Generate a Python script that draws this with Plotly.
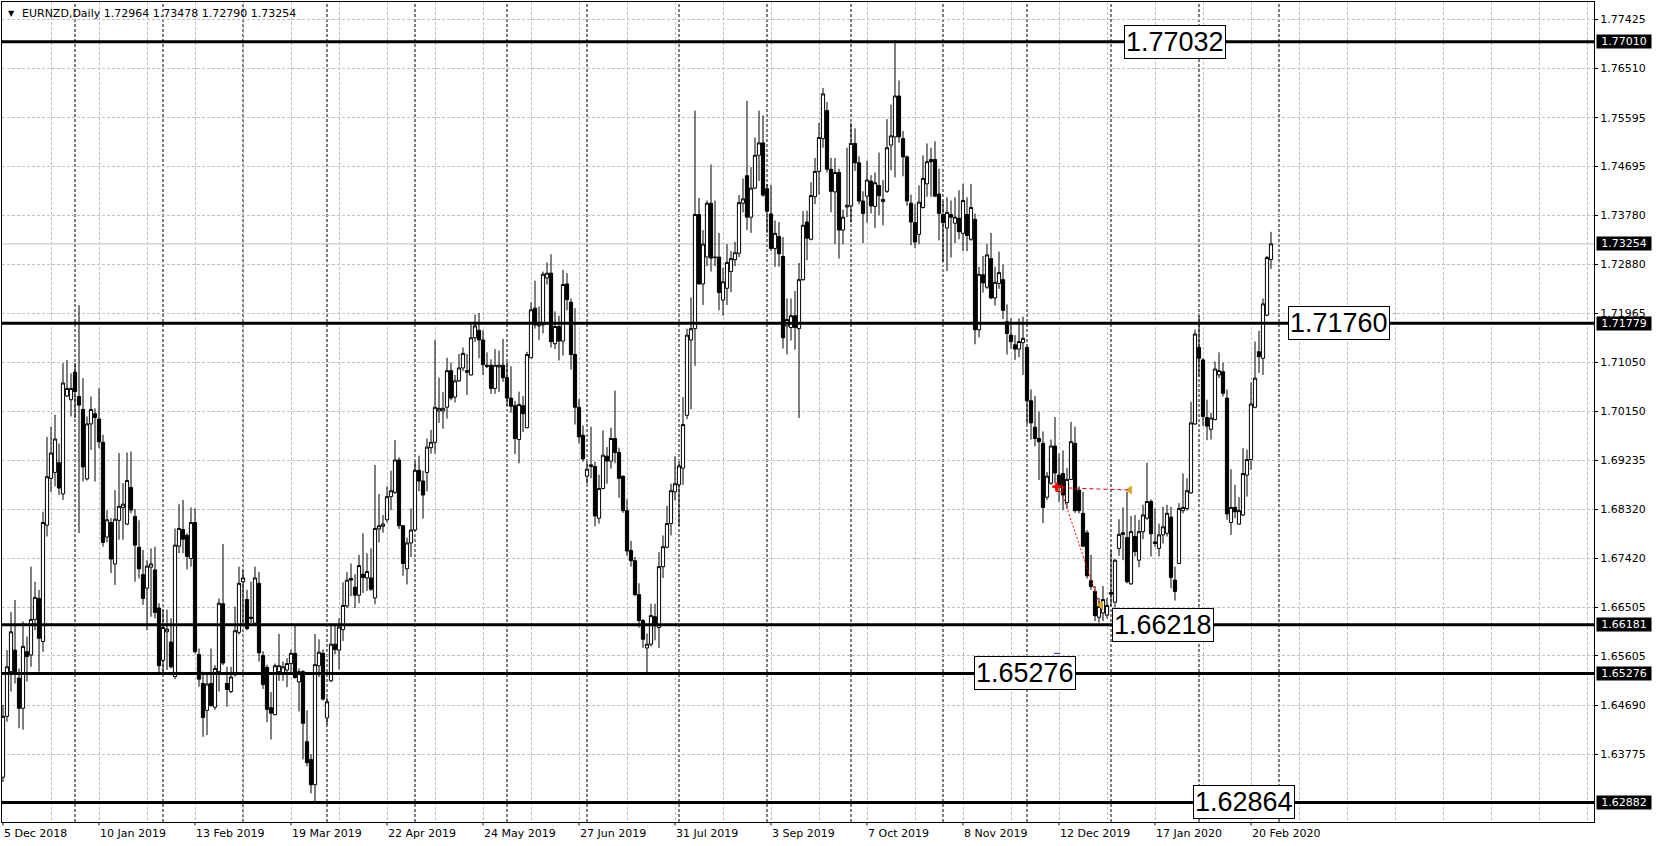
import plotly.graph_objects as go
import pandas as pd

# ---------------- data ----------------
symbol_title = "EURNZD,Daily"

opens = [
    1.6335, 1.6448, 1.6531, 1.6571, 1.6519, 1.6463, 1.6568, 1.6562, 1.6628, 1.6667,
    1.6587, 1.6803, 1.6890, 1.6901, 1.6919, 1.6861, 1.7043, 1.7036, 1.7087, 1.7042,
    1.7018, 1.6889, 1.6991, 1.7010, 1.7000, 1.6957, 1.6781, 1.6808, 1.6731, 1.6812,
    1.6836, 1.6805, 1.6873, 1.6819, 1.6762, 1.6711, 1.6686, 1.6725, 1.6720, 1.6649,
    1.6552, 1.6605, 1.6586, 1.6522, 1.6764, 1.6795, 1.6784, 1.6741, 1.6808, 1.6563,
    1.6509, 1.6459, 1.6509, 1.6465, 1.6531, 1.6657, 1.6509, 1.6494, 1.6525, 1.6604,
    1.6698, 1.6665, 1.6632, 1.6621, 1.6695, 1.6561, 1.6539, 1.6464, 1.6451, 1.6531,
    1.6529, 1.6534, 1.6546, 1.6565, 1.6512, 1.6531, 1.6401, 1.6368, 1.6321, 1.6542,
    1.6565, 1.6445, 1.6514, 1.6582, 1.6571, 1.6609, 1.6653, 1.6704, 1.6688, 1.6673,
    1.6712, 1.6705, 1.6705, 1.6668, 1.6796, 1.6801, 1.6813, 1.6856, 1.6864, 1.6924,
    1.6802, 1.6722, 1.6770, 1.6794, 1.6905, 1.6885, 1.6901, 1.6947, 1.6957, 1.7015,
    1.7015, 1.7022, 1.7090, 1.7041, 1.7071, 1.7095, 1.7090, 1.7082, 1.7151, 1.7165,
    1.7147, 1.7100, 1.7100, 1.7057, 1.7097, 1.7100, 1.7077, 1.7039, 1.7025, 1.6962,
    1.7025, 1.6984, 1.7114, 1.7206, 1.7173, 1.7175, 1.7262, 1.7271, 1.7140, 1.7172,
    1.7145, 1.7251, 1.7217, 1.7120, 1.7022, 1.6970, 1.6894, 1.6912, 1.6912, 1.6816,
    1.6871, 1.6931, 1.6922, 1.6964, 1.6938, 1.6894, 1.6830, 1.6756, 1.6737, 1.6674,
    1.6626, 1.6575, 1.6582, 1.6633, 1.6613, 1.6726, 1.6762, 1.6806, 1.6865, 1.6878,
    1.6909, 1.7007, 1.7147, 1.7168, 1.7380, 1.7251, 1.7301, 1.7401, 1.7301, 1.7301,
    1.7221, 1.7243, 1.7274, 1.7296, 1.7308, 1.7401, 1.7452, 1.7375, 1.7429, 1.7490,
    1.7513, 1.7428, 1.7381, 1.7317, 1.7339, 1.7302, 1.7173, 1.7170, 1.7192, 1.7168,
    1.7259, 1.7366, 1.7334, 1.7413, 1.7460, 1.7521, 1.7573, 1.7464, 1.7422, 1.7458,
    1.7351, 1.7394, 1.7396, 1.7512, 1.7476, 1.7405, 1.7414, 1.7442, 1.7395, 1.7434,
    1.7404, 1.7423, 1.7509, 1.7524, 1.7600, 1.7521, 1.7487, 1.7401, 1.7365, 1.7343,
    1.7393, 1.7437, 1.7482, 1.7482, 1.7418, 1.7380, 1.7355, 1.7380, 1.7364, 1.7373,
    1.7345, 1.7380, 1.7334, 1.7371, 1.7166, 1.7268, 1.7245, 1.7298, 1.7225, 1.7252,
    1.7259, 1.7181, 1.7156, 1.7138, 1.7130, 1.7142, 1.7133, 1.7034, 1.6985, 1.6964,
    1.6955, 1.6855, 1.6881, 1.6950, 1.6896, 1.6899, 1.6845, 1.6888, 1.6955, 1.6868,
    1.6825, 1.6789, 1.6700, 1.6680, 1.6632, 1.6640, 1.6636, 1.6678, 1.6660, 1.6760,
    1.6789, 1.6780, 1.6694, 1.6782, 1.6738, 1.6791, 1.6816, 1.6847, 1.6772, 1.6760,
    1.6785, 1.6788, 1.6818, 1.6701, 1.6732, 1.6830, 1.6834, 1.6863, 1.6991, 1.7133,
    1.7110, 1.7003, 1.6981, 1.6999, 1.7082, 1.7088, 1.7039, 1.6808, 1.6836, 1.6805,
    1.6822, 1.6896, 1.6925, 1.7022, 1.7125, 1.7113, 1.7193, 1.72964,
]

highs = [
    1.6469, 1.6571, 1.6642, 1.6664, 1.6537, 1.6624, 1.6596, 1.6726, 1.6698, 1.6683,
    1.6828, 1.6967, 1.6986, 1.7008, 1.6955, 1.7104, 1.7110, 1.7085, 1.7104, 1.7212,
    1.7076, 1.7005, 1.7042, 1.7020, 1.7057, 1.6971, 1.6831, 1.6816, 1.6868, 1.6937,
    1.6881, 1.6938, 1.6940, 1.6833, 1.6812, 1.6757, 1.6738, 1.6760, 1.6763, 1.6658,
    1.6646, 1.6646, 1.6630, 1.6797, 1.6842, 1.6850, 1.6788, 1.6836, 1.6834, 1.6574,
    1.6531, 1.6528, 1.6574, 1.6543, 1.6667, 1.6768, 1.6540, 1.6540, 1.6652, 1.6726,
    1.6720, 1.6683, 1.6698, 1.6726, 1.6716, 1.6569, 1.6544, 1.6493, 1.6546, 1.6601,
    1.6550, 1.6556, 1.6572, 1.6617, 1.6537, 1.6534, 1.6459, 1.6378, 1.6601, 1.6591,
    1.6572, 1.6483, 1.6617, 1.6617, 1.6630, 1.6697, 1.6716, 1.6732, 1.6712, 1.6748,
    1.6788, 1.6751, 1.6760, 1.6915, 1.6861, 1.6822, 1.6875, 1.6904, 1.6961, 1.6929,
    1.6803, 1.6780, 1.6834, 1.6922, 1.6932, 1.6904, 1.6964, 1.6980, 1.7147, 1.7077,
    1.7050, 1.7114, 1.7105, 1.7082, 1.7121, 1.7133, 1.7121, 1.7175, 1.7194, 1.7197,
    1.7165, 1.7124, 1.7111, 1.7130, 1.7127, 1.7149, 1.7106, 1.7098, 1.7034, 1.7051,
    1.7043, 1.7125, 1.7217, 1.7257, 1.7209, 1.7274, 1.7291, 1.7306, 1.7200, 1.7192,
    1.7277, 1.7271, 1.7224, 1.7206, 1.7037, 1.6988, 1.6921, 1.6986, 1.6921, 1.6897,
    1.6979, 1.6948, 1.6984, 1.7053, 1.6947, 1.6895, 1.6851, 1.6774, 1.6744, 1.6695,
    1.6629, 1.6602, 1.6657, 1.6657, 1.6753, 1.6784, 1.6839, 1.6880, 1.6931, 1.6921,
    1.7041, 1.7168, 1.7226, 1.7573, 1.7411, 1.7351, 1.7406, 1.7473, 1.7406, 1.7346,
    1.7281, 1.7325, 1.7312, 1.7329, 1.7416, 1.7447, 1.7591, 1.7468, 1.7523, 1.7573,
    1.7564, 1.7437, 1.7435, 1.7369, 1.7366, 1.7338, 1.7224, 1.7224, 1.7238, 1.7290,
    1.7386, 1.7387, 1.7440, 1.7485, 1.7550, 1.7615, 1.7589, 1.7485, 1.7485, 1.7465,
    1.7389, 1.7504, 1.7550, 1.7540, 1.7488, 1.7423, 1.7480, 1.7453, 1.7458, 1.7495,
    1.7444, 1.7557, 1.7584, 1.7703, 1.7629, 1.7535, 1.7490, 1.7417, 1.7399, 1.7434,
    1.7490, 1.7512, 1.7504, 1.7516, 1.7465, 1.7405, 1.7412, 1.7406, 1.7412, 1.7425,
    1.7437, 1.7412, 1.7437, 1.7382, 1.7283, 1.7303, 1.7325, 1.7346, 1.7283, 1.7311,
    1.7287, 1.7213, 1.7187, 1.7156, 1.7187, 1.7190, 1.7135, 1.7055, 1.7043, 1.7014,
    1.6977, 1.6902, 1.6962, 1.7004, 1.6936, 1.6942, 1.6909, 1.6995, 1.6986, 1.6875,
    1.6865, 1.6794, 1.6748, 1.6690, 1.6668, 1.6690, 1.6668, 1.6757, 1.6740, 1.6814,
    1.6836, 1.6865, 1.6820, 1.6822, 1.6813, 1.6841, 1.6919, 1.6851, 1.6834, 1.6806,
    1.6837, 1.6841, 1.6837, 1.6726, 1.6844, 1.6899, 1.6890, 1.7032, 1.7166, 1.7192,
    1.7113, 1.7036, 1.7012, 1.7107, 1.7124, 1.7105, 1.7055, 1.6907, 1.6878, 1.6855,
    1.6946, 1.6943, 1.7068, 1.7144, 1.7164, 1.7224, 1.7303, 1.73478,
]

lows = [
    1.6326, 1.6438, 1.6494, 1.6509, 1.6426, 1.6423, 1.6513, 1.6540, 1.6608, 1.6531,
    1.6568, 1.6782, 1.6865, 1.6875, 1.6859, 1.6850, 1.7041, 1.7005, 1.7002, 1.6788,
    1.6884, 1.6886, 1.6943, 1.6884, 1.6946, 1.6763, 1.6771, 1.6714, 1.6692, 1.6776,
    1.6776, 1.6803, 1.6825, 1.6698, 1.6704, 1.6655, 1.6608, 1.6633, 1.6630, 1.6529,
    1.6531, 1.6534, 1.6537, 1.6517, 1.6751, 1.6751, 1.6721, 1.6726, 1.6565, 1.6503,
    1.6410, 1.6413, 1.6466, 1.6460, 1.6494, 1.6543, 1.6466, 1.6491, 1.6522, 1.6600,
    1.6618, 1.6608, 1.6621, 1.6618, 1.6550, 1.6499, 1.6437, 1.6405, 1.6450, 1.6514,
    1.6514, 1.6502, 1.6528, 1.6518, 1.6457, 1.6368, 1.6355, 1.6305, 1.6287, 1.6521,
    1.6477, 1.6432, 1.6512, 1.6563, 1.6535, 1.6588, 1.6649, 1.6671, 1.6649, 1.6658,
    1.6677, 1.6681, 1.6681, 1.6656, 1.6771, 1.6789, 1.6808, 1.6831, 1.6861, 1.6796,
    1.6709, 1.6693, 1.6744, 1.6792, 1.6866, 1.6815, 1.6866, 1.6936, 1.6936, 1.6993,
    1.6982, 1.7001, 1.7035, 1.7031, 1.7069, 1.7089, 1.7045, 1.7081, 1.7143, 1.7113,
    1.7082, 1.7095, 1.7047, 1.7047, 1.7050, 1.7069, 1.7024, 1.7012, 1.6935, 1.6918,
    1.6976, 1.6983, 1.7113, 1.7168, 1.7147, 1.7159, 1.7250, 1.7133, 1.7130, 1.7109,
    1.7118, 1.7202, 1.7092, 1.6990, 1.6955, 1.6921, 1.6880, 1.6890, 1.6801, 1.6806,
    1.6870, 1.6880, 1.6908, 1.6918, 1.6854, 1.6826, 1.6746, 1.6726, 1.6671, 1.6613,
    1.6575, 1.6530, 1.6578, 1.6589, 1.6575, 1.6705, 1.6760, 1.6784, 1.6849, 1.6801,
    1.6878, 1.7000, 1.7018, 1.7099, 1.7250, 1.7212, 1.7284, 1.7274, 1.7284, 1.7202,
    1.7192, 1.7212, 1.7236, 1.7284, 1.7301, 1.7384, 1.7351, 1.7346, 1.7427, 1.7442,
    1.7413, 1.7346, 1.7312, 1.7283, 1.7283, 1.7131, 1.7120, 1.7146, 1.7129, 1.7002,
    1.7257, 1.7295, 1.7332, 1.7399, 1.7417, 1.7504, 1.7458, 1.7384, 1.7325, 1.7298,
    1.7325, 1.7375, 1.7365, 1.7461, 1.7399, 1.7327, 1.7365, 1.7382, 1.7355, 1.7379,
    1.7360, 1.7420, 1.7462, 1.7449, 1.7513, 1.7451, 1.7396, 1.7323, 1.7318, 1.7325,
    1.7391, 1.7413, 1.7413, 1.7413, 1.7332, 1.7291, 1.7275, 1.7300, 1.7327, 1.7334,
    1.7312, 1.7312, 1.7331, 1.7139, 1.7152, 1.7235, 1.7242, 1.7223, 1.7211, 1.7242,
    1.7186, 1.7120, 1.7131, 1.7110, 1.7115, 1.7082, 1.6991, 1.6962, 1.6949, 1.6887,
    1.6807, 1.6850, 1.6878, 1.6881, 1.6846, 1.6831, 1.6834, 1.6887, 1.6826, 1.6825,
    1.6763, 1.6704, 1.6683, 1.6625, 1.6622, 1.6625, 1.6630, 1.6652, 1.6650, 1.6746,
    1.6738, 1.6695, 1.6692, 1.6745, 1.6725, 1.6777, 1.6813, 1.6745, 1.6763, 1.6745,
    1.6769, 1.6782, 1.6686, 1.6663, 1.6731, 1.6825, 1.6830, 1.6861, 1.6989, 1.7079,
    1.6987, 1.6961, 1.6962, 1.6998, 1.7076, 1.7042, 1.6813, 1.6785, 1.6816, 1.6804,
    1.6820, 1.6856, 1.6906, 1.7020, 1.7086, 1.7082, 1.7191, 1.72790,
]

closes = [
    1.6448, 1.6540, 1.6605, 1.6528, 1.6463, 1.6578, 1.6559, 1.6628, 1.6669, 1.6593,
    1.6808, 1.6893, 1.6937, 1.6963, 1.6872, 1.7067, 1.7057, 1.7057, 1.7051, 1.7026,
    1.6911, 1.6991, 1.7018, 1.7003, 1.6958, 1.6771, 1.6813, 1.6740, 1.6814, 1.6838,
    1.6842, 1.6886, 1.6831, 1.6766, 1.6722, 1.6667, 1.6727, 1.6731, 1.6641, 1.6542,
    1.6613, 1.6610, 1.6540, 1.6766, 1.6797, 1.6777, 1.6745, 1.6808, 1.6568, 1.6517,
    1.6446, 1.6508, 1.6468, 1.6537, 1.6658, 1.6547, 1.6498, 1.6521, 1.6607, 1.6695,
    1.6705, 1.6611, 1.6630, 1.6705, 1.6566, 1.6507, 1.6461, 1.6454, 1.6542, 1.6542,
    1.6540, 1.6546, 1.6565, 1.6520, 1.6531, 1.6435, 1.6362, 1.6321, 1.6544, 1.6567,
    1.6480, 1.6475, 1.6582, 1.6572, 1.6614, 1.6654, 1.6701, 1.6701, 1.6673, 1.6728,
    1.6706, 1.6717, 1.6684, 1.6797, 1.6802, 1.6805, 1.6856, 1.6867, 1.6924, 1.6802,
    1.6732, 1.6770, 1.6794, 1.6905, 1.6885, 1.6859, 1.6948, 1.6957, 1.7022, 1.7020,
    1.7020, 1.7090, 1.7039, 1.7071, 1.7095, 1.7122, 1.7087, 1.7151, 1.7173, 1.7147,
    1.7101, 1.7098, 1.7057, 1.7100, 1.7100, 1.7077, 1.7039, 1.7024, 1.6964, 1.7027,
    1.7010, 1.7120, 1.7203, 1.7175, 1.7177, 1.7269, 1.7271, 1.7144, 1.7172, 1.7145,
    1.7250, 1.7222, 1.7120, 1.7022, 1.6967, 1.6926, 1.6907, 1.6915, 1.6820, 1.6871,
    1.6933, 1.6922, 1.6964, 1.6938, 1.6890, 1.6830, 1.6755, 1.6737, 1.6674, 1.6626,
    1.6591, 1.6582, 1.6635, 1.6616, 1.6726, 1.6763, 1.6806, 1.6867, 1.6880, 1.6913,
    1.6990, 1.7156, 1.7168, 1.7380, 1.7251, 1.7325, 1.7401, 1.7299, 1.7300, 1.7235,
    1.7255, 1.7291, 1.7298, 1.7309, 1.7402, 1.7409, 1.7375, 1.7429, 1.7490, 1.7513,
    1.7416, 1.7386, 1.7317, 1.7345, 1.7307, 1.7151, 1.7185, 1.7192, 1.7170, 1.7259,
    1.7360, 1.7336, 1.7415, 1.7460, 1.7523, 1.7604, 1.7464, 1.7423, 1.7458, 1.7351,
    1.7375, 1.7397, 1.7512, 1.7476, 1.7405, 1.7382, 1.7444, 1.7396, 1.7439, 1.7415,
    1.7408, 1.7504, 1.7526, 1.7600, 1.7524, 1.7487, 1.7405, 1.7366, 1.7329, 1.7403,
    1.7447, 1.7478, 1.7478, 1.7414, 1.7382, 1.7365, 1.7384, 1.7375, 1.7375, 1.7348,
    1.7406, 1.7341, 1.7393, 1.7166, 1.7269, 1.7253, 1.7305, 1.7225, 1.7254, 1.7272,
    1.7202, 1.7159, 1.7144, 1.7130, 1.7144, 1.7150, 1.7034, 1.6993, 1.6964, 1.6958,
    1.6836, 1.6894, 1.6950, 1.6900, 1.6873, 1.6859, 1.6888, 1.6958, 1.6830, 1.6830,
    1.6764, 1.6709, 1.6689, 1.6635, 1.6652, 1.6665, 1.6654, 1.6675, 1.6738, 1.6786,
    1.6786, 1.6698, 1.6791, 1.6754, 1.6791, 1.6822, 1.6847, 1.6787, 1.6769, 1.6785,
    1.6800, 1.6825, 1.6706, 1.6680, 1.6834, 1.6836, 1.6867, 1.6993, 1.7158, 1.7113,
    1.7005, 1.6987, 1.7002, 1.7093, 1.7090, 1.7048, 1.6824, 1.6836, 1.6828, 1.6830,
    1.6899, 1.6925, 1.7028, 1.7076, 1.7116, 1.7214, 1.7300, 1.73254,
]

holidays = ["2018-12-25", "2019-01-01", "2019-12-25", "2020-01-01"]
first_date = "2018-12-05"

price_ticks = [1.77425, 1.76510, 1.75595, 1.74695, 1.73780, 1.72880, 1.71965, 1.71050,
               1.70150, 1.69235, 1.68320, 1.67420, 1.66505, 1.65605, 1.64690, 1.63775]

level_prices = [1.77010, 1.71779, 1.66181, 1.65276, 1.62882]
level_texts = ["1.77032", "1.71760", "1.66218", "1.65276", "1.62864"]
level_text_bars = [293, 334, 290, 255.4, 310.25]

bid_price = 1.73254

trade_open_bar = 263.4
trade_open_price = 1.68745
trade_close_bars = [281.7, 274.5]
trade_close_prices = [1.68684, 1.66542]

marker_bar = 263.5
marker_price = 1.6565

# ---------------- derived ----------------
n_bars = len(closes)
bar_idx = list(range(n_bars))
all_dates = pd.bdate_range(first_date, periods=n_bars + 90, freq="C", holidays=holidays)

label_step = 24
grid_step = 12
x_lo, x_hi = -0.25, 397.75
y_lo, y_hi = 1.625177, 1.777463

month_starts = []
for i in range(1, len(all_dates)):
    if all_dates[i].month != all_dates[i - 1].month:
        month_starts.append(i)
        if i >= n_bars:
            break

label_idx = list(range(0, n_bars, label_step))
label_txt = [f"{all_dates[i].day} {all_dates[i].strftime('%b %Y')}" for i in label_idx]

FONT = "DejaVu Sans"

fig = go.Figure()

fig.add_trace(go.Candlestick(
    x=bar_idx, open=opens, high=highs, low=lows, close=closes,
    increasing=dict(line=dict(color="black", width=1), fillcolor="white"),
    decreasing=dict(line=dict(color="black", width=1), fillcolor="black"),
    whiskerwidth=0, showlegend=False, hoverinfo="skip",
))

# trade markers
fig.add_trace(go.Scatter(
    x=trade_close_bars, y=trade_close_prices, mode="markers",
    marker=dict(symbol="triangle-left", size=8, color="#DAA520"),
    showlegend=False, hoverinfo="skip"))
fig.add_trace(go.Scatter(
    x=[trade_open_bar], y=[trade_open_price], mode="markers",
    marker=dict(symbol="cross", size=7, color="red"),
    showlegend=False, hoverinfo="skip"))

shapes = []
# month separators
for i in month_starts:
    shapes.append(dict(type="line", xref="x", yref="paper", x0=i, x1=i, y0=0, y1=1,
                       line=dict(color="black", width=1, dash="3px,2px"), layer="below"))
# bid line
shapes.append(dict(type="line", xref="paper", yref="y", x0=0, x1=1, y0=bid_price, y1=bid_price,
                   line=dict(color="#C0C0C0", width=1), layer="below"))
# level lines
for lv in level_prices:
    shapes.append(dict(type="line", xref="paper", yref="y", x0=0, x1=1, y0=lv, y1=lv,
                       line=dict(color="black", width=3), layer="above"))
# bottom ticks at date labels
for i in label_idx:
    shapes.append(dict(type="line", xref="x", yref="paper", x0=i, x1=i, y0=0, y1=-0.004,
                       line=dict(color="black", width=1)))
# trade lines
shapes.append(dict(type="line", xref="x", yref="y", x0=trade_open_bar + 1.2, x1=trade_close_bars[0] - 0.5,
                   y0=trade_open_price - 0.0002, y1=trade_close_prices[0],
                   line=dict(color="red", width=1, dash="4px,3px"), layer="above"))
shapes.append(dict(type="line", xref="x", yref="y", x0=trade_open_bar + 1.2, x1=trade_close_bars[1] - 0.3,
                   y0=trade_open_price - 0.0009, y1=trade_close_prices[1],
                   line=dict(color="red", width=1, dash="2px,2px"), layer="above"))
shapes.append(dict(type="rect", xref="x", yref="y", x0=trade_open_bar - 0.15, x1=trade_open_bar + 1.5,
                   y0=trade_open_price - 0.0009, y1=trade_open_price + 0.0002,
                   line=dict(color="red", width=1), layer="above"))
# small blue marker
shapes.append(dict(type="line", xref="x", yref="y", x0=marker_bar - 0.8, x1=marker_bar + 0.8,
                   y0=marker_price, y1=marker_price, line=dict(color="#3030C8", width=1), layer="above"))

annotations = []
# header
annotations.append(dict(xref="paper", yref="paper", x=0, y=1, xanchor="left", yanchor="middle",
                        xshift=5, yshift=-11, text="▼", showarrow=False, borderpad=0,
                        font=dict(family=FONT, size=8, color="black")))
annotations.append(dict(xref="paper", yref="paper", x=0, y=1, xanchor="left", yanchor="middle",
                        xshift=19, yshift=-11, showarrow=False, borderpad=0,
                        text=f"{symbol_title} {opens[-1]:.5f} {highs[-1]:.5f} {lows[-1]:.5f} {closes[-1]:.5f}",
                        font=dict(family=FONT, size=11, color="black")))
# date labels
for i, t in zip(label_idx, label_txt):
    annotations.append(dict(xref="x", yref="paper", x=i, y=0, xanchor="left", yanchor="middle",
                            yshift=-11, text=t, showarrow=False, borderpad=0,
                            font=dict(family=FONT, size=11, color="black")))
# highlighted price labels on the axis
for v in [level_prices[0], bid_price] + level_prices[1:]:
    annotations.append(dict(xref="paper", yref="y", x=1, y=v, xanchor="left", yanchor="middle",
                            xshift=2, text=f"{v:.5f}", showarrow=False, bgcolor="black",
                            width=54, height=13, borderpad=0, align="center",
                            font=dict(family=FONT, size=11, color="white")))
# level text boxes
for b, v, t in zip(level_text_bars, level_prices, level_texts):
    annotations.append(dict(xref="x", yref="y", x=b, y=v, xanchor="center", yanchor="middle",
                            text=t, showarrow=False, bgcolor="white", bordercolor="black",
                            borderwidth=1, borderpad=1,
                            font=dict(family="Liberation Sans, Arial", size=27, color="black")))

fig.update_layout(
    width=1658, height=846, autosize=False,
    margin=dict(l=2, r=64, t=2, b=24, pad=0),
    paper_bgcolor="white", plot_bgcolor="white",
    showlegend=False, hovermode=False,
    boxgap=0.2, boxgroupgap=0,
    xaxis=dict(range=[x_lo, x_hi], tickvals=list(range(0, int(x_hi) + 1, grid_step)),
               showticklabels=False, ticks="", showgrid=True, gridcolor="#C0C0C0",
               gridwidth=1, griddash="3px,2px", zeroline=False, showline=True,
               linecolor="black", linewidth=1, mirror=True,
               rangeslider=dict(visible=False), fixedrange=True),
    yaxis=dict(range=[y_lo, y_hi], side="right", tickvals=price_ticks,
               ticktext=[f"{v:.5f}" for v in price_ticks],
               tickfont=dict(family=FONT, size=11, color="black"),
               ticks="outside", ticklen=3, tickcolor="black",
               showgrid=True, gridcolor="#C0C0C0", gridwidth=1, griddash="3px,2px",
               zeroline=False, showline=True, linecolor="black", linewidth=1, mirror=True,
               fixedrange=True),
    shapes=shapes, annotations=annotations,
)

fig.write_html("out.html", config={"displayModeBar": False},
               post_script="document.body.style.margin='0px';document.body.style.overflow='hidden';")
